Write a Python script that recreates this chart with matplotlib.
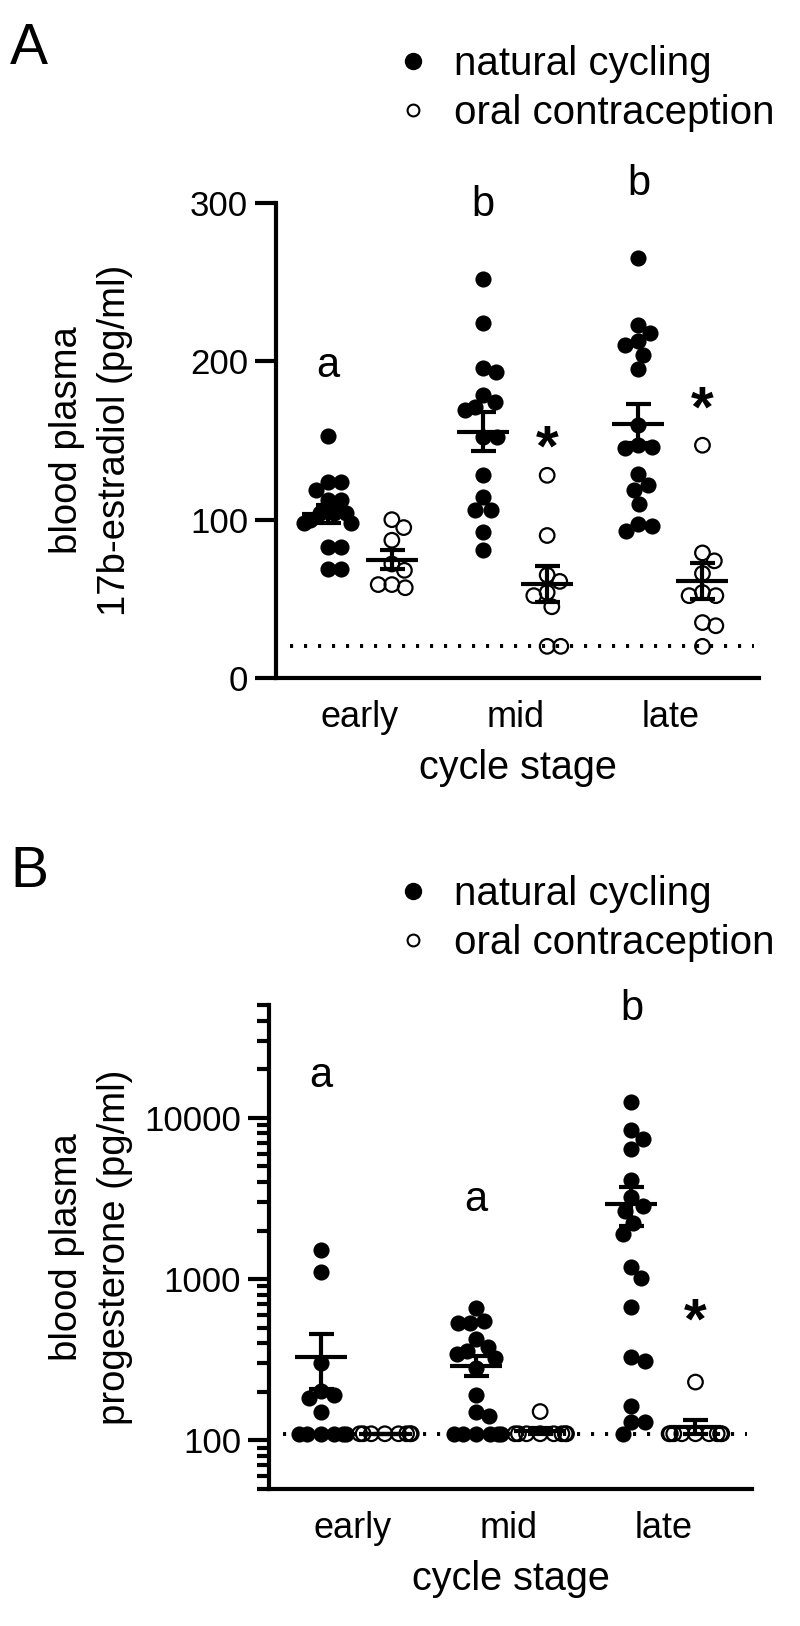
import numpy as np
import matplotlib
matplotlib.use("Agg")
import matplotlib.pyplot as plt
from matplotlib.lines import Line2D
from matplotlib import ticker

plt.rcParams['font.family'] = ['Liberation Sans', 'DejaVu Sans']

stages = ['early', 'mid', 'late']

# 17b-estradiol (pg/ml)
e2_nc_early = [153, 124, 124, 119, 112.5, 112.5, 104, 104, 104, 100, 98, 98, 83, 83, 69, 69]
e2_oc_early = [100, 95, 87, 72, 68, 59, 59, 57]
e2_nc_mid = [252, 224, 196, 193, 179, 174, 171, 169, 152, 152, 128, 114, 106, 106, 92, 81]
e2_oc_mid = [128, 90, 65, 61, 54, 52, 45, 20, 20]
e2_nc_late = [265, 223, 218, 213, 210, 204, 195, 160, 147, 146, 145, 129, 122, 119, 110, 97, 96, 93]
e2_oc_late = [147, 79, 74, 66, 54, 52, 52, 35, 33, 20]

# progesterone (pg/ml)
p4_nc_early = [1515, 1100, 303, 202, 192, 183, 151, 110, 110, 110, 110, 110, 110]
p4_oc_early = [110, 110, 110, 110, 110, 110, 110, 110]
p4_nc_mid = [658, 550, 537, 532, 424, 381, 358, 341, 326, 282, 192, 151, 141,
             110, 110, 110, 110, 110, 110]
p4_oc_mid = [151, 110, 110, 110, 110, 110, 110, 110, 110]
p4_nc_late = [12560, 8380, 7430, 6440, 4090, 3220, 2830, 2660, 2230, 1905, 1194,
              1015, 667, 330, 310, 163, 131, 131, 110]
p4_oc_late = [230, 110, 110, 110, 110, 110, 110, 110, 110, 110]

e2_lod = 20
p4_lod = 110

e2_letters = ['a', 'b', 'b']
p4_letters = ['a', 'a', 'b']

W, H = 800, 1626
fig = plt.figure(figsize=(8, 16.26), dpi=100)


def px_axes(left, top, right, bottom):
    return fig.add_axes([left / W, 1 - bottom / H, (right - left) / W, (bottom - top) / H])


def swarm(ax, xc, vals, d=15, lim=27):
    vals = np.asarray(vals, float)
    ypix = ax.transData.transform(np.column_stack([np.full(len(vals), xc), vals]))[:, 1]
    offs = np.zeros(len(vals))
    placed = []
    for i in range(len(vals)):
        y = ypix[i]
        cands = [0.0]
        for yo, xo in placed:
            dy = y - yo
            if abs(dy) < d:
                dx = np.sqrt(d * d - dy * dy)
                cands += [xo + dx, xo - dx]
        for c in sorted(cands, key=abs):
            if all((c - xo) ** 2 + (y - yo) ** 2 >= d * d - 1e-6 for yo, xo in placed):
                offs[i] = c
                break
        placed.append((y, offs[i]))
    offs = lim * np.tanh(offs / lim)
    ppx = ax.transData.transform([[1, 0]])[0, 0] - ax.transData.transform([[0, 0]])[0, 0]
    return xc + offs / ppx, ppx


def draw_group(ax, xc, vals, filled):
    xs, ppx = swarm(ax, xc, vals)
    if filled:
        ax.scatter(xs, vals, s=135, color='k', linewidths=0, zorder=3, clip_on=False)
    else:
        ax.scatter(xs, vals, s=110, facecolors='none', edgecolors='k', linewidths=1.6,
                   zorder=3, clip_on=False)
    m = np.mean(vals)
    sem = np.std(vals, ddof=1) / np.sqrt(len(vals))
    hw = 26 / ppx
    ax.hlines(m, xc - hw, xc + hw, color='k', lw=3, zorder=4)
    ax.errorbar(xc, m, yerr=sem, fmt='none', ecolor='k', elinewidth=3,
                capsize=9, capthick=3, zorder=4)


def style_axis(ax):
    for s in ['top', 'right']:
        ax.spines[s].set_visible(False)
    for s in ['left', 'bottom']:
        ax.spines[s].set_linewidth(3)
    ax.set_xlim(-0.54, 2.57)
    ax.set_xticks(range(len(stages)))
    ax.set_xticklabels(stages, fontsize=26)
    ax.tick_params(axis='x', length=0, pad=16)
    ax.tick_params(axis='y', which='major', length=15, width=3, labelsize=25, pad=5)
    ax.set_xlabel('cycle stage', fontsize=28.5, labelpad=10)


def add_legend(ax, top_px):
    h = [Line2D([], [], marker='o', ls='none', color='k', markersize=11.5),
         Line2D([], [], marker='o', ls='none', mfc='none', mec='k', mew=1.5, markersize=8.5)]
    ax.legend(h, ['natural cycling', 'oral contraception'], loc='upper left',
              bbox_to_anchor=(401 / W, 1 - top_px / H), bbox_transform=fig.transFigure,
              frameon=False, fontsize=29, handlelength=0.6, handletextpad=0.72,
              labelspacing=0.27, borderpad=0, borderaxespad=0)


def lod_line(ax, v):
    ax.axhline(v, 0.03, 0.99, color='k', lw=2.8, ls=(0, (0.8, 2.8)), zorder=1)


off = 0.206

# ---- panel A: estradiol
axA = px_axes(276, 203, 759, 678)
style_axis(axA)
axA.set_ylim(0, 300)
axA.set_yticks([0, 100, 200, 300])
lod_line(axA, e2_lod)
e2_nc = [e2_nc_early, e2_nc_mid, e2_nc_late]
e2_oc = [e2_oc_early, e2_oc_mid, e2_oc_late]
for i in range(3):
    draw_group(axA, i - off, e2_nc[i], True)
    draw_group(axA, i + off, e2_oc[i], False)
for i, (lab, yv) in enumerate(zip(e2_letters, [190, 292, 305])):
    axA.text(i - off, yv, lab, ha='center', va='baseline', fontsize=30, clip_on=False)
axA.text(1 + off, 134, '*', ha='center', va='baseline', fontsize=42, fontweight='bold')
axA.text(2 + off, 159, '*', ha='center', va='baseline', fontsize=42, fontweight='bold')
axA.set_ylabel('blood plasma\n17b-estradiol (pg/ml)', fontsize=27.5, linespacing=1.45)
axA.yaxis.label.set_va('center')
axA.yaxis.set_label_coords((91 - 276) / 483, 0.5)
add_legend(axA, 45)
fig.text(10 / W, 1 - 64 / H, 'A', fontsize=41, va='baseline', ha='left')

# ---- panel B: progesterone
axB = px_axes(269, 1005, 752, 1489)
axB.set_yscale('log')
style_axis(axB)
axB.set_ylim(50, 50000)
axB.yaxis.set_major_locator(ticker.FixedLocator([100, 1000, 10000]))
axB.yaxis.set_major_formatter(ticker.FixedFormatter(['100', '1000', '10000']))
axB.yaxis.set_minor_locator(ticker.LogLocator(base=10, subs=np.arange(2, 10), numticks=20))
axB.yaxis.set_minor_formatter(ticker.NullFormatter())
axB.tick_params(axis='y', which='minor', length=8.5, width=3)
lod_line(axB, p4_lod)
p4_nc = [p4_nc_early, p4_nc_mid, p4_nc_late]
p4_oc = [p4_oc_early, p4_oc_mid, p4_oc_late]
for i in range(3):
    draw_group(axB, i - off, p4_nc[i], True)
    draw_group(axB, i + off, p4_oc[i], False)
for i, (lab, yv) in enumerate(zip(p4_letters, [15600, 2660, 40400])):
    axB.text(i - off, yv, lab, ha='center', va='baseline', fontsize=30, clip_on=False)
axB.text(2 + off, 430, '*', ha='center', va='baseline', fontsize=42, fontweight='bold')
axB.set_ylabel('blood plasma\nprogesterone (pg/ml)', fontsize=27.5, linespacing=1.45)
axB.yaxis.label.set_va('center')
axB.yaxis.set_label_coords((91 - 269) / 483, 0.5)
add_legend(axB, 875)
fig.text(10 / W, 1 - 887 / H, 'B', fontsize=41, va='baseline', ha='left')

fig.savefig('out.png', dpi=100)
